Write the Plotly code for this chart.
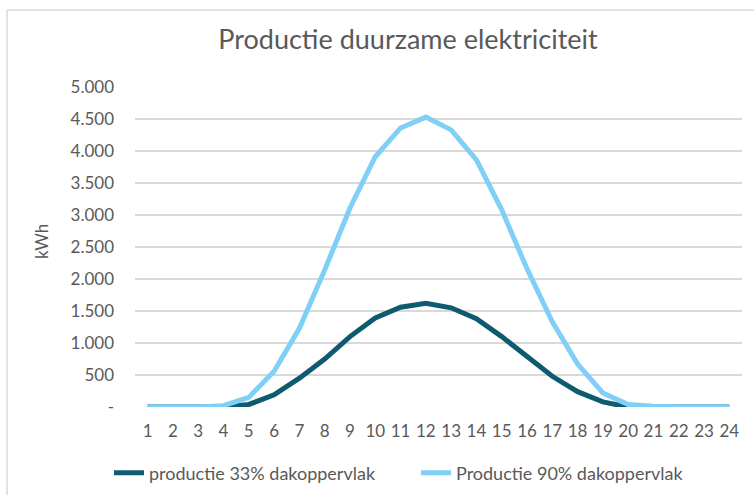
import plotly.graph_objects as go

hours = list(range(1, 25))
prod_33 = [0, 0, 0, 0, 40, 190, 450, 750, 1100, 1390, 1560, 1620, 1550, 1380, 1100, 790, 480, 240, 80, 0, 0, 0, 0, 0]
prod_90 = [0, 0, 0, 20, 150, 560, 1230, 2140, 3110, 3910, 4360, 4530, 4330, 3860, 3080, 2160, 1330, 670, 220, 40, 10, 0, 0, 0]
y_tickvals = [0, 500, 1000, 1500, 2000, 2500, 3000, 3500, 4000, 4500, 5000]
y_ticktext = ["-", "500", "1.000", "1.500", "2.000", "2.500", "3.000", "3.500", "4.000", "4.500", "5.000"]

W, H = 754, 495
L, R, T, B = 135, 12, 87, 88
pw, ph = W - L - R, H - T - B

def px(x):
    return (x - L) / pw

def py(y):
    return (H - B - y) / ph

font_col = "#595959"
fig = go.Figure()
fig.add_trace(go.Scatter(x=hours, y=prod_33, mode="lines", name="productie 33% dakoppervlak",
                         line=dict(color="#0E5B6F", width=5), legend="legend"))
fig.add_trace(go.Scatter(x=hours, y=prod_90, mode="lines", name="Productie 90% dakoppervlak",
                         line=dict(color="#7FCFF6", width=5), legend="legend2"))

leg_common = dict(orientation="h", xref="container", xanchor="left", yref="container", yanchor="middle",
                  y=1 - 473 / H, font=dict(size=18, color=font_col), itemwidth=30,
                  bgcolor="rgba(0,0,0,0)")

fig.update_layout(
    width=W, height=H,
    margin=dict(l=L, r=R, t=T, b=B, autoexpand=False),
    paper_bgcolor="white", plot_bgcolor="white",
    font=dict(family="Lato", color=font_col, size=17),
    title=dict(text="Productie duurzame elektriciteit", x=408 / W, xref="container", xanchor="center",
               y=1 - 40 / H, yref="container", yanchor="middle", font=dict(size=27, color=font_col)),
    showlegend=True,
    legend=dict(x=109 / W, **leg_common),
    legend2=dict(x=416 / W, **leg_common),
    xaxis=dict(range=[0.5, 24.5], tickmode="array", tickvals=hours, ticktext=[str(h) for h in hours],
               showgrid=False, zeroline=False, showline=False, ticks="", ticklabelstandoff=12,
               automargin=False, tickfont=dict(size=17, color=font_col)),
    yaxis=dict(range=[0, 5000], tickmode="array", tickvals=y_tickvals, ticktext=y_ticktext,
               showgrid=True, gridcolor="#D9D9D9", gridwidth=1.5, zeroline=False, showline=False,
               ticks="", ticklabelstandoff=20, automargin=False, tickfont=dict(size=17, color=font_col)),
    separators=",.",
)

fig.add_annotation(text="kWh", xref="paper", yref="paper", x=px(41), y=py(242), showarrow=False,
                   textangle=-90, font=dict(size=17, color=font_col), xanchor="center", yanchor="middle")

# chart border (light gray frame extending past right/bottom edges)
fig.add_shape(type="line", xref="paper", yref="paper", x0=px(7), x1=px(7), y0=py(10), y1=py(520),
              line=dict(color="#D9D9D9", width=1.5), layer="below")
fig.add_shape(type="line", xref="paper", yref="paper", x0=px(7), x1=px(780), y0=py(10), y1=py(10),
              line=dict(color="#D9D9D9", width=1.5), layer="below")

fig.write_html("out.html", config={"displayModeBar": False},
               post_script="document.body.style.margin='0';document.body.style.overflow='hidden';")
